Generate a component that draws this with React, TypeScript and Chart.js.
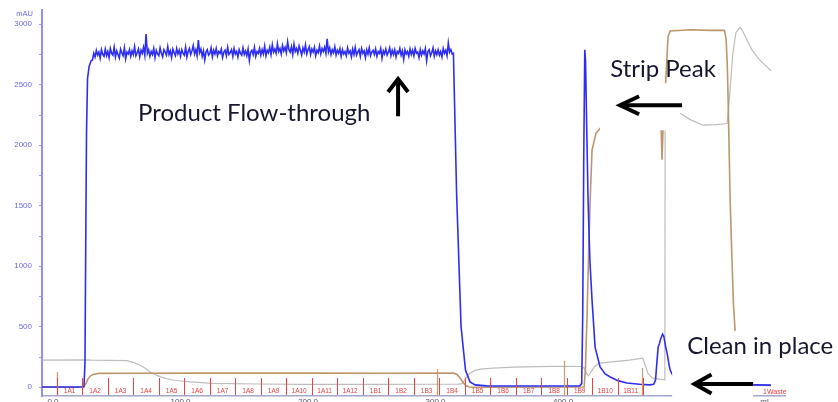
import React, { useEffect, useRef } from "react";
import { Chart, registerables } from "chart.js";

Chart.register(...registerables);

// ---- axes ----
const X_MIN = -8.6;
const X_MAX = 574;
const Y_MIN = -72;
const Y_MAX = 3118;

const xTickValues = [0, 100, 200, 300, 400, 500, 558];
const xTickLabels = ["0.0", "100.0", "200.0", "300.0", "400.0", "500.0", "ml"];
const yTickValues = [0, 250, 500, 750, 1000, 1250, 1500, 1750, 2000, 2250, 2500, 2750, 3000];
const yTickLabels = ["0", "", "500", "", "1000", "", "1500", "", "2000", "", "2500", "", "3000"];
const yUnit = "mAU";

// ---- UV (blue) ----
const uvRise: [number, number][] = [
  [-8.6, 2], [0, 2], [20, 2], [24.3, 4], [25.1, 200], [25.7, 1200], [26.3, 2100],
  [27.1, 2550], [28.3, 2650], [30, 2700],
];
const uvPlateauFrom = 31;
const uvPlateauStep = 1;
const uvPlateau: number[] = [
  2705, 2760, 2730, 2785, 2745, 2770, 2720, 2790, 2750, 2735,
  2795, 2740, 2775, 2725, 2800, 2760, 2745, 2810, 2730, 2780,
  2750, 2720, 2795, 2765, 2740, 2805, 2715, 2770, 2755, 2790,
  2735, 2780, 2750, 2815, 2740, 2765, 2795, 2730, 2785, 2760,
  2810, 2745, 2920, 2760, 2790, 2735, 2775, 2750, 2800, 2725,
  2785, 2755, 2740, 2805, 2760, 2730, 2790, 2770, 2745, 2815,
  2750, 2780, 2725, 2795, 2765, 2740, 2800, 2755, 2785, 2735,
  2790, 2760, 2745, 2810, 2730, 2775, 2800, 2750, 2780, 2825,
  2755, 2790, 2740, 2870, 2765, 2795, 2735, 2780, 2705, 2770,
  2790, 2745, 2760, 2805, 2730, 2785, 2755, 2800, 2740, 2775,
  2760, 2795, 2725, 2770, 2785, 2740, 2810, 2750, 2765, 2790,
  2735, 2800, 2755, 2775, 2730, 2790, 2760, 2745, 2805, 2750,
  2780, 2740, 2795, 2700, 2770, 2785, 2750, 2810, 2735, 2775,
  2760, 2800, 2745, 2790, 2755, 2820, 2740, 2785, 2765, 2810,
  2750, 2830, 2770, 2795, 2760, 2840, 2775, 2800, 2755, 2825,
  2780, 2810, 2765, 2855, 2790, 2770, 2815, 2750, 2835, 2775,
  2800, 2760, 2820, 2785, 2745, 2805, 2770, 2830, 2755, 2790,
  2815, 2750, 2795, 2770, 2810, 2740, 2785, 2765, 2820, 2755,
  2800, 2775, 2810, 2760, 2880, 2770, 2805, 2750, 2790, 2765,
  2815, 2745, 2785, 2760, 2800, 2735, 2790, 2755, 2775, 2740,
  2805, 2760, 2780, 2730, 2795, 2750, 2810, 2745, 2770, 2790,
  2735, 2800, 2760, 2780, 2725, 2790, 2755, 2805, 2740, 2770,
  2785, 2750, 2795, 2735, 2775, 2760, 2800, 2720, 2780, 2755,
  2795, 2745, 2770, 2805, 2740, 2785, 2750, 2790, 2730, 2775,
  2760, 2800, 2745, 2780, 2710, 2790, 2755, 2775, 2735, 2795,
  2750, 2785, 2740, 2800, 2760, 2770, 2725, 2790, 2745, 2780,
  2755, 2800, 2700, 2775, 2790, 2740, 2765, 2805, 2735, 2780,
  2750, 2790, 2745, 2775, 2730, 2800, 2760, 2785, 2740, 2845,
  2770, 2790, 2755,
];
const uvAfter: [number, number][] = [
  [314, 2760], [316.5, 1600], [320, 500], [323.5, 140], [327, 45], [331, 20], [340, 12],
  [380, 11], [413, 12], [414.6, 30], [415.4, 600], [416.2, 1900], [417, 2790], [417.6, 2700],
  [418.6, 2100], [419.6, 1540], [421, 1050], [422.7, 720], [425.1, 330], [429, 168],
  [433, 110], [437, 85], [443, 55], [450, 35], [460, 25], [468, 20], [471, 25], [472.5, 60],
  [473.5, 200], [474.5, 330], [475.5, 360], [476.5, 400], [478, 440], [479, 420],
  [480.5, 330], [481.6, 280], [483, 190], [484, 140], [486, 100], [490, 70], [500, 45],
  [520, 30], [540, 22], [563, 18],
];

// ---- conductivity (brown) ----
const condTrace: [number, number][] = [
  [-8.6, 0], [23.5, 0], [24.5, 8], [26, 35], [27.5, 70], [29.5, 95], [32, 108], [36, 115],
  [60, 116], [120, 117], [200, 117], [260, 116], [314, 117], [316.5, 108], [319, 80],
  [321.5, 40], [324, 12], [326.5, 2], [330, 0], [416.5, 2], [417.5, 150], [418.8, 600],
  [420, 1100], [421.2, 1540], [422.7, 1960], [425.8, 2100], [429, 2140], [432, 2160],
  [476.8, 2160], [477.6, 1880], [478.4, 2160], [480.4, 2510], [482.3, 2900], [484, 2945],
  [500, 2955], [515, 2950], [526.5, 2950], [527.8, 2880], [528.8, 2650], [529.4, 2380],
  [531, 1540], [533.5, 700], [535, 445], [537, 200], [539, 60], [541, 20], [563, 15],
];

// ---- concentration / pH (grey) ----
const concTrace: [number, number][] = [
  [-8.6, 224], [25, 226], [30, 224], [45, 222], [58, 220], [63, 206], [68, 184], [72, 160],
  [76, 129], [80, 106], [84, 88], [89, 72], [94, 60], [105, 46], [125, 33], [160, 27],
  [194, 24], [250, 24], [300, 25], [318, 26], [321, 30], [324, 80], [327, 118], [331, 140],
  [335, 150], [345, 158], [361, 166], [380, 170], [400, 174], [414, 172], [416.5, 160],
  [418.5, 110], [420, 95], [422, 130], [425, 175], [429, 200], [440, 212], [452, 225],
  [462.5, 240], [464.5, 180], [466.5, 115], [469.8, 78], [474, 70], [479.8, 62], [480, 2300],
  [491.8, 2265], [500, 2210], [509.8, 2166], [520, 2170], [528.6, 2180], [530.5, 2400],
  [533, 2750], [535.5, 2930], [538.8, 2975], [541, 2940], [544.3, 2868], [548, 2790],
  [552.2, 2730], [556, 2685], [560, 2648], [563.1, 2615],
];

// ---- fractions ----
const fractionEdges = [3, 23, 43, 63, 83, 103, 123, 143, 163, 183, 203, 223, 243, 263, 283, 303, 323, 343, 363, 383, 403, 423, 443, 463];
const fractionNames = [
  "1A1", "1A2", "1A3", "1A4", "1A5", "1A6", "1A7", "1A8", "1A9", "1A10", "1A11", "1A12",
  "1B1", "1B2", "1B3", "1B4", "1B5", "1B6", "1B7", "1B8", "1B9", "1B10", "1B11",
];
const wasteName = "1Waste";
const wasteAt = 566;
const eventAt = [3, 301, 401, 462];
const eventTop = [125, 150, 220, 160];

// ---- annotations ----
const noteTexts = ["Product Flow-through", "Strip Peak", "Clean in place"];
const noteX = [66.7, 436.9, 497.3];
const noteY = [2201, 2566, 275];
const arrowFrom: [number, number][] = [[270.6, 2240], [493.3, 2331], [549, 27]];
const arrowTo: [number, number][] = [[270.6, 2548], [444.7, 2331], [503, 27]];
const arrowHead: [number, number][] = [[13, 10], [19, 9], [17, 9.5]];
const maskBoxes: { x0: number; x1: number | null; y0: number | null; y1: number }[] = [
  { x0: 429, x1: 491.8, y0: 2124, y1: 2512 },
  { x0: 485.5, x1: null, y0: 160, y1: 466 },
  { x0: 485.5, x1: 549, y0: null, y1: 160 },
];

const toXY = (arr: [number, number][]) => arr.map(([x, y]) => ({ x, y }));

function uvData() {
  const pts = toXY(uvRise);
  uvPlateau.forEach((v, i) => pts.push({ x: uvPlateauFrom + i * uvPlateauStep, y: v }));
  return pts.concat(toXY(uvAfter));
}

const fractionPlugin = {
  id: "fractions",
  afterDatasetsDraw(chart: any) {
    const { ctx, chartArea } = chart;
    const xs = chart.scales.x;
    const ys = chart.scales.y;
    ctx.save();
    // event markers
    ctx.strokeStyle = "#c4a074";
    ctx.lineWidth = 1.3;
    eventAt.forEach((ml, i) => {
      const px = Math.round(xs.getPixelForValue(ml)) + 0.5;
      ctx.beginPath();
      ctx.moveTo(px, chartArea.bottom);
      ctx.lineTo(px, ys.getPixelForValue(eventTop[i]));
      ctx.stroke();
    });
    // fraction ticks
    ctx.strokeStyle = "#f04040";
    ctx.lineWidth = 1;
    fractionEdges.forEach((ml) => {
      const px = Math.round(xs.getPixelForValue(ml)) + 0.5;
      ctx.beginPath();
      ctx.moveTo(px, chartArea.bottom - 18);
      ctx.lineTo(px, chartArea.bottom - 1);
      ctx.stroke();
    });
    ctx.fillStyle = "#ee4040";
    ctx.font = "6.5px 'Liberation Sans'";
    ctx.textAlign = "center";
    ctx.textBaseline = "middle";
    fractionNames.forEach((name, i) => {
      const c = (xs.getPixelForValue(fractionEdges[i]) + xs.getPixelForValue(fractionEdges[i + 1])) / 2;
      ctx.fillText(name, c, chartArea.bottom - 5);
    });
    ctx.font = "7px 'Liberation Sans'";
    ctx.fillText(wasteName, xs.getPixelForValue(wasteAt), chartArea.bottom - 4);
    ctx.restore();
  },
};

const notePlugin = {
  id: "notes",
  afterDraw(chart: any) {
    const { ctx, chartArea } = chart;
    const xs = chart.scales.x;
    const ys = chart.scales.y;
    ctx.save();
    // unit label
    ctx.fillStyle = "#6a6ae8";
    ctx.font = "7.5px 'Liberation Sans'";
    ctx.textAlign = "right";
    ctx.textBaseline = "middle";
    ctx.fillText(yUnit, chartArea.left - 9, ys.getPixelForValue(3085));
    // x tick labels (partly cut by the bottom of the picture)
    ctx.fillStyle = "#555566";
    ctx.font = "8px 'Liberation Sans'";
    ctx.textAlign = "center";
    ctx.textBaseline = "top";
    xTickValues.forEach((v, i) => {
      ctx.fillText(xTickLabels[i], xs.getPixelForValue(v), chartArea.bottom + 2);
    });
    // white boxes
    ctx.fillStyle = "#ffffff";
    maskBoxes.forEach((b) => {
      const x0 = xs.getPixelForValue(b.x0);
      const x1 = b.x1 === null ? chart.width : xs.getPixelForValue(b.x1);
      const yt = ys.getPixelForValue(b.y1);
      const yb = b.y0 === null ? chart.height : ys.getPixelForValue(b.y0);
      ctx.fillRect(x0, yt, x1 - x0, yb - yt);
    });
    // texts
    ctx.fillStyle = "#16162e";
    ctx.font = "24px Lato";
    ctx.textAlign = "left";
    ctx.textBaseline = "alphabetic";
    noteTexts.forEach((t, i) => {
      ctx.fillText(t, xs.getPixelForValue(noteX[i]), ys.getPixelForValue(noteY[i]));
    });
    // arrows
    ctx.strokeStyle = "#000000";
    ctx.lineWidth = 4;
    ctx.lineCap = "butt";
    ctx.lineJoin = "miter";
    arrowFrom.forEach((f, i) => {
      const x0 = xs.getPixelForValue(f[0]);
      const y0 = ys.getPixelForValue(f[1]);
      const x1 = xs.getPixelForValue(arrowTo[i][0]);
      const y1 = ys.getPixelForValue(arrowTo[i][1]);
      const len = Math.hypot(x1 - x0, y1 - y0);
      const ux = (x1 - x0) / len;
      const uy = (y1 - y0) / len;
      const [hl, hw] = arrowHead[i];
      ctx.beginPath();
      ctx.moveTo(x0, y0);
      ctx.lineTo(x1 - ux * 1.5, y1 - uy * 1.5);
      ctx.stroke();
      ctx.beginPath();
      ctx.moveTo(x1 - ux * hl - uy * hw, y1 - uy * hl + ux * hw);
      ctx.lineTo(x1, y1);
      ctx.lineTo(x1 - ux * hl + uy * hw, y1 - uy * hl - ux * hw);
      ctx.stroke();
    });
    ctx.restore();
  },
};

export default function App() {
  const ref = useRef<HTMLCanvasElement | null>(null);
  useEffect(() => {
    if (!ref.current) return;
    const chart = new Chart(ref.current, {
      type: "line",
      data: {
        datasets: [
          { label: "UV", data: uvData(), borderColor: "#2e2ef2", borderWidth: 1.6 },
          { label: "Cond", data: toXY(condTrace), borderColor: "#bc966c", borderWidth: 1.6 },
          { label: "Conc", data: toXY(concTrace), borderColor: "#bdbdbd", borderWidth: 1.2 },
        ],
      },
      options: {
        animation: false,
        responsive: false,
        devicePixelRatio: 1,
        layout: { padding: { left: 0, right: 53, top: 10, bottom: 0 }, autoPadding: false } as any,
        plugins: { legend: { display: false }, tooltip: { enabled: false } },
        elements: { point: { radius: 0 }, line: { tension: 0 } },
        scales: {
          x: {
            type: "linear",
            min: X_MIN,
            max: X_MAX,
            afterBuildTicks: (s: any) => {
              s.ticks = xTickValues.map((v) => ({ value: v }));
            },
            afterFit: (s: any) => {
              s.height = 6;
              s.paddingLeft = 0;
              s.paddingRight = 0;
            },
            grid: { display: false },
            border: { display: true, color: "#a4a8cc", width: 1.5 },
            ticks: { display: false },
          },
          y: {
            type: "linear",
            min: Y_MIN,
            max: Y_MAX,
            afterBuildTicks: (s: any) => {
              s.ticks = yTickValues.map((v) => ({ value: v }));
            },
            afterFit: (s: any) => {
              s.width = 42;
              s.paddingTop = 0;
              s.paddingBottom = 0;
            },
            grid: { display: true, drawOnChartArea: false, drawTicks: true, tickLength: 3, color: "#9a9aff" },
            border: { display: true, color: "#8f8fff", width: 2 },
            ticks: {
              autoSkip: false,
              padding: 7,
              color: "#6a6ae8",
              font: { size: 8, family: "'Liberation Sans'" },
              callback: (v: any) => yTickLabels[yTickValues.indexOf(Number(v))] ?? "",
            },
          },
        },
      },
      plugins: [fractionPlugin, notePlugin],
    });
    return () => chart.destroy();
  }, []);
  return (
    <div style={{ position: "fixed", left: 0, top: 0, width: 838, height: 402, background: "#fff" }}>
      <canvas ref={ref} width={838} height={402} style={{ width: 838, height: 402, display: "block" }} />
    </div>
  );
}
